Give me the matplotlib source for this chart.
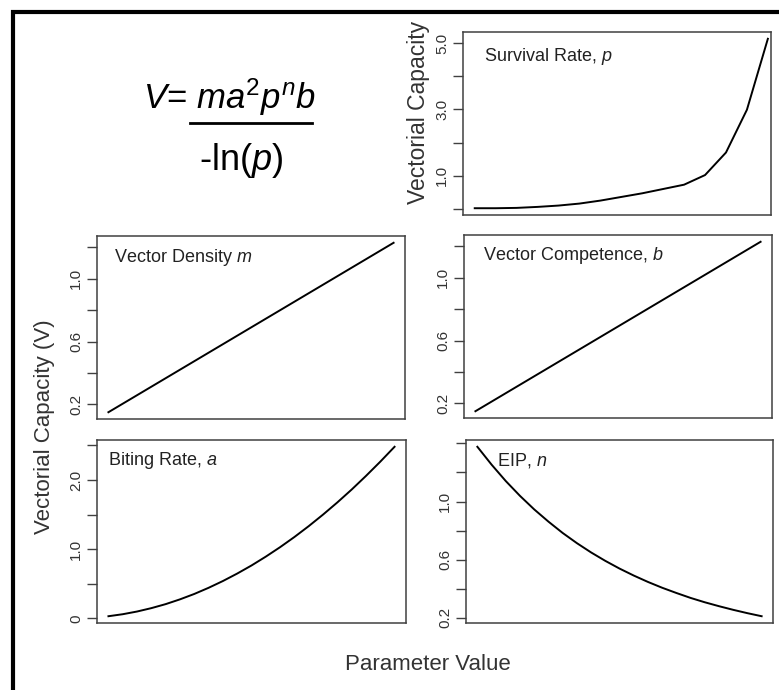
import matplotlib.pyplot as plt
from matplotlib.patches import Rectangle
from matplotlib.lines import Line2D

plt.rcParams['font.family'] = ['Liberation Sans', 'DejaVu Sans']
plt.rcParams['mathtext.fontset'] = 'custom'
plt.rcParams['mathtext.rm'] = 'Liberation Sans'
plt.rcParams['mathtext.it'] = 'Liberation Sans:italic'

# values (x = parameter step)
survival_x = list(range(15))
survival_v = [0.02, 0.02, 0.03, 0.06, 0.10, 0.16, 0.25, 0.36, 0.47, 0.60,
              0.73, 1.02, 1.70, 2.99, 5.13]

lin_x = list(range(11))
density_v = [0.150, 0.258, 0.366, 0.474, 0.582, 0.690, 0.798, 0.906, 1.014, 1.122, 1.230]
competence_v = [0.150, 0.258, 0.366, 0.474, 0.582, 0.690, 0.798, 0.906, 1.014, 1.122, 1.230]

curve_x = list(range(21))
biting_v = [0.030, 0.059, 0.098, 0.147, 0.205, 0.274, 0.352, 0.441, 0.539, 0.647, 0.764,
            0.892, 1.029, 1.176, 1.333, 1.500, 1.676, 1.862, 2.059, 2.265, 2.481]
eip_v = [1.377, 1.254, 1.141, 1.039, 0.946, 0.862, 0.784, 0.714, 0.650, 0.592, 0.539,
         0.491, 0.447, 0.407, 0.371, 0.337, 0.307, 0.280, 0.255, 0.232, 0.211]

W, H = 779, 690
fig = plt.figure(figsize=(W / 100, H / 100), dpi=100)


def panel(x0, y_top, w, h):
    return fig.add_axes([x0 / W, (H - y_top - h) / H, w / W, h / H])


def style(ax, ticks, labels):
    for s in ax.spines.values():
        s.set_color('#404040')
        s.set_linewidth(1.1)
    ax.set_xticks([])
    ax.set_yticks(ticks)
    ax.set_yticklabels(labels, rotation=90, va='center', fontsize=11, color='#333333')
    ax.tick_params(axis='y', length=7, width=1, color='#404040', pad=3)


# survival rate
ax = panel(463, 32, 308, 183)
ax.plot(survival_x, survival_v, color='black', lw=1.4)
ax.margins(y=0.04)
ax.set_xlim(-0.56, 14.15)
style(ax, [0, 1, 2, 3, 4, 5], ['', '1.0', '', '3.0', '', '5.0'])
ax.text(0.068, 0.865, r'Survival Rate, $p$', transform=ax.transAxes,
        fontsize=13, va='center', color='#222222')
ax.set_ylabel('Vectorial Capacity', fontsize=16.5, color='#333333')
ax.yaxis.set_label_coords(-0.108, 0.563)

lin_ticks = [0.2, 0.4, 0.6, 0.8, 1.0, 1.2]
lin_labels = ['0.2', '', '0.6', '', '1.0', '']

# vector density
ax = panel(97, 236, 308, 183)
ax.plot(lin_x, density_v, color='black', lw=1.4)
ax.margins(0.04)
style(ax, lin_ticks, lin_labels)
ax.text(0.055, 0.88, r'Vector Density $m$', transform=ax.transAxes,
        fontsize=13, va='center', color='#222222',
        family=['Liberation Sans Narrow', 'Liberation Sans'])

# vector competence
ax = panel(464, 235, 308, 183)
ax.plot(lin_x, competence_v, color='black', lw=1.4)
ax.margins(0.04)
style(ax, lin_ticks, lin_labels)
ax.text(0.062, 0.89, r'Vector Competence, $b$', transform=ax.transAxes,
        fontsize=13, va='center', color='#222222')

# biting rate
ax = panel(97, 440, 309, 183)
ax.plot(curve_x, biting_v, color='black', lw=1.4)
ax.margins(0.04)
style(ax, [0, 0.5, 1.0, 1.5, 2.0, 2.5], ['0', '', '1.0', '', '2.0', ''])
ax.text(0.036, 0.89, r'Biting Rate, $a$', transform=ax.transAxes,
        fontsize=13, va='center', color='#222222',
        family=['Liberation Sans Narrow', 'Liberation Sans'])

# EIP
ax = panel(466, 440, 307, 183)
ax.plot(curve_x, eip_v, color='black', lw=1.4)
ax.margins(0.04)
style(ax, [0.2, 0.4, 0.6, 0.8, 1.0, 1.2, 1.4], ['0.2', '', '0.6', '', '1.0', '', ''])
ax.text(0.10, 0.89, r'EIP, $n$', transform=ax.transAxes,
        fontsize=13, va='center', color='#222222',
        family=['Liberation Sans Narrow', 'Liberation Sans'])

# shared labels
fig.text(45 / W, 1 - 427 / H, 'Vectorial Capacity (V)', rotation=90,
         fontsize=16, ha='center', va='center', color='#333333')
fig.text(428 / W, 1 - 665 / H, 'Parameter Value', fontsize=16,
         ha='center', va='center', color='#333333',
         family=['Liberation Sans Narrow', 'Liberation Sans'])

# formula
fig.text(143 / W, 1 - 97 / H, r'$V$= $ma^{2}p^{n}b$', fontsize=25,
         ha='left', va='center')
fig.add_artist(Line2D([190 / W, 312 / W], [1 - 123 / H, 1 - 123 / H],
                      color='black', lw=2, transform=fig.transFigure))
fig.text(241 / W, 1 - 161 / H, r'-ln$(p)$', fontsize=26, ha='center', va='center')

# outer frame (right and bottom edges fall outside the picture)
fig.add_artist(Rectangle((13 / W, -0.2), 2, 1.2 - 12 / H, fill=False,
                         edgecolor='black', lw=3, transform=fig.transFigure))

fig.savefig('out.png', dpi=100)
